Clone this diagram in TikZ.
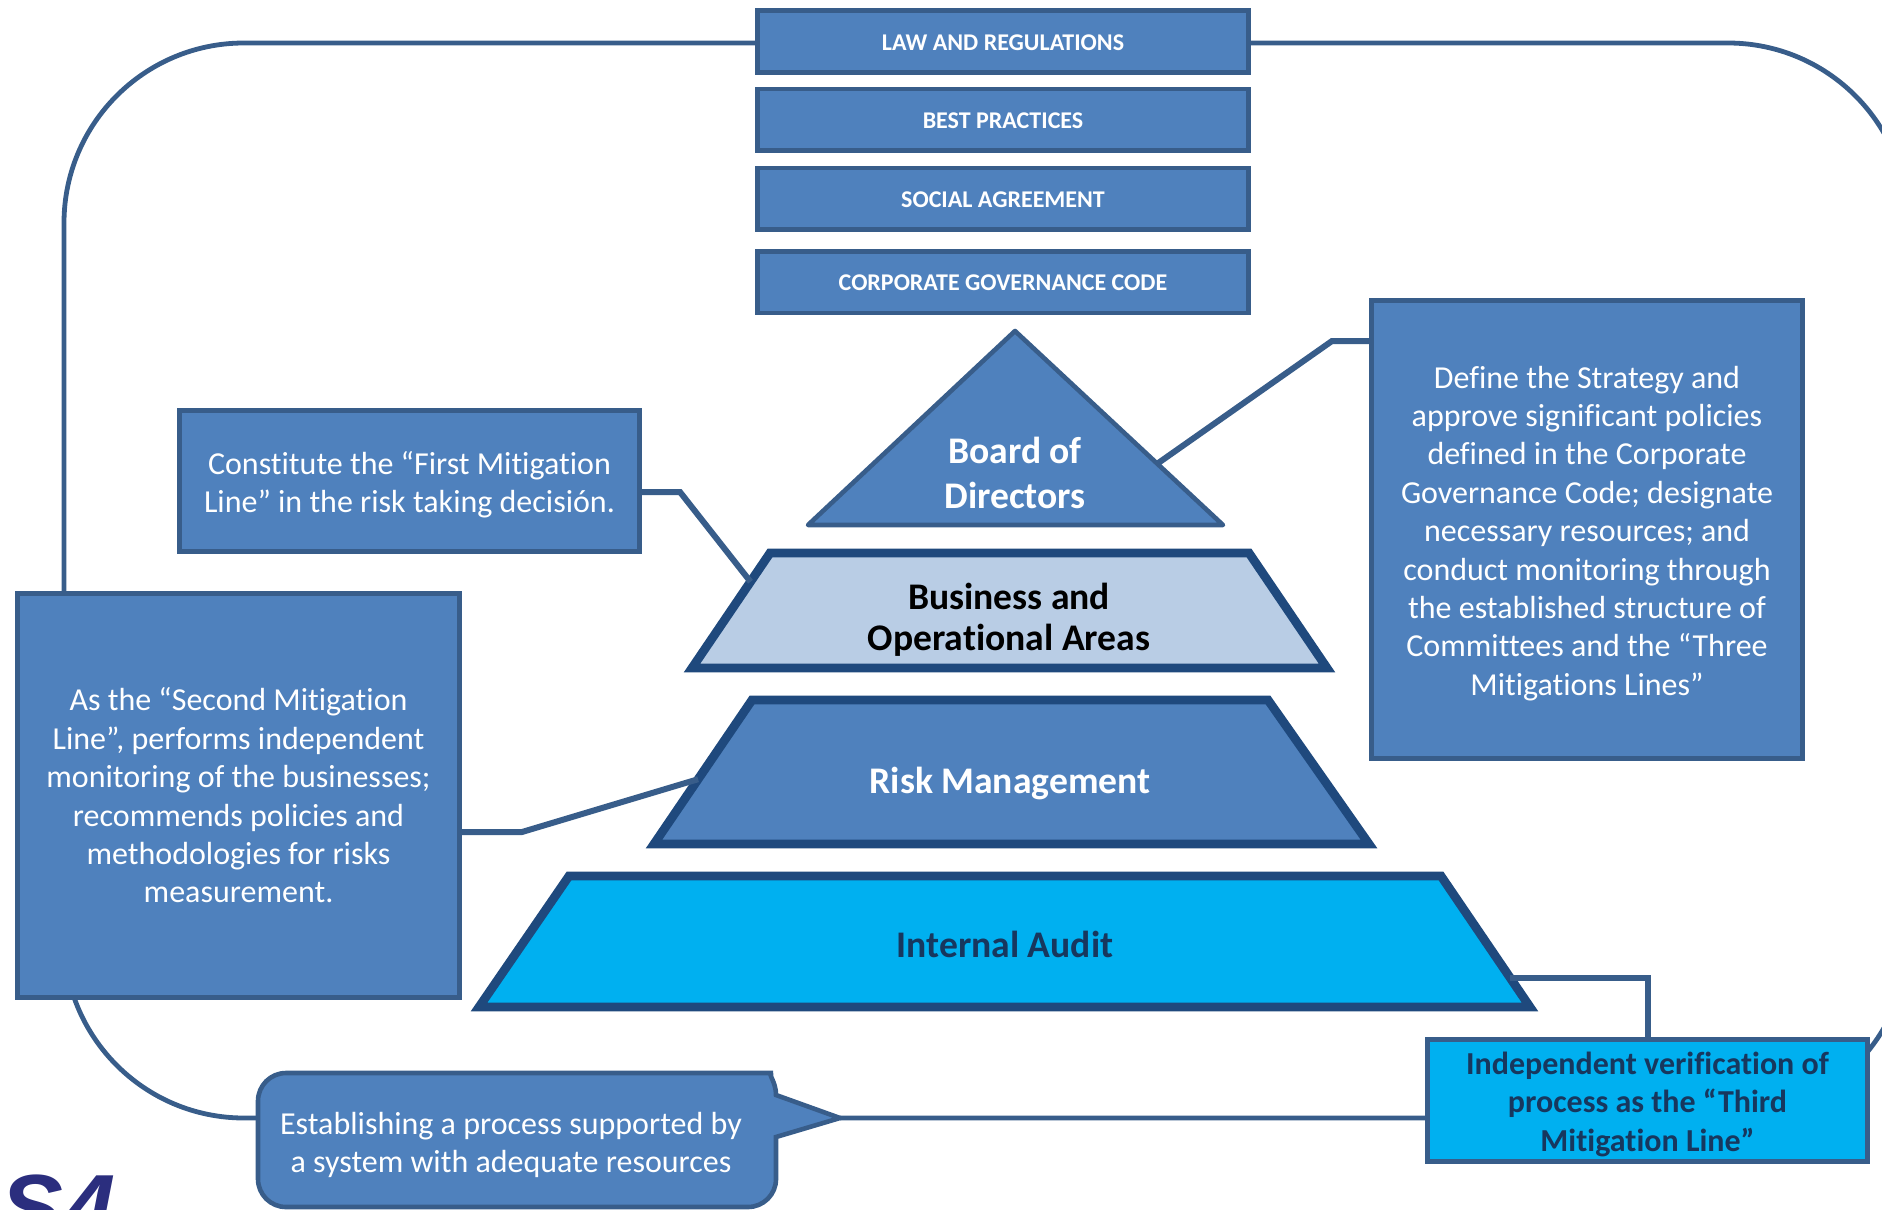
\documentclass[tikz,border=0pt]{standalone}
\usepackage{fontspec}
\setmainfont{Carlito}[Ligatures=CommonOff]
\newfontfamily\logofont{Liberation Sans}
\usetikzlibrary{shadows,calc}
\definecolor{boxfill}{HTML}{4F81BD}
\definecolor{boxline}{HTML}{385D8A}
\definecolor{darkline}{HTML}{1F497D}
\definecolor{lightfill}{HTML}{B9CDE5}
\definecolor{cyanfill}{HTML}{00B0F0}
\definecolor{darktext}{HTML}{17375E}
\definecolor{logoblue}{HTML}{2B2E7E}
\begin{document}
\begin{tikzpicture}[x=0.5pt,y=-0.5pt]
\tikzstyle{topbox}=[draw=boxline,line width=2.3pt,fill=boxfill,text=white,font=\fontsize{12}{14}\selectfont\bfseries,text height=9pt,minimum width=245.3pt,minimum height=30.8pt,inner sep=0pt,outer sep=0pt]
\tikzstyle{sidebox}=[draw=boxline,line width=2.3pt,fill=boxfill,text=white,font=\fontsize{16}{19.2}\selectfont,align=center,inner sep=0pt,outer sep=0pt]
\tikzstyle{cyanbox}=[sidebox,fill=cyanfill,text=darktext,font=\fontsize{16}{19.2}\selectfont\bfseries]
\tikzstyle{tier}=[draw=darkline,line width=4.4pt,drop shadow={shadow xshift=1pt,shadow yshift=-1.5pt,fill=black,opacity=.35}]
\tikzstyle{tierlabel}=[align=center,inner sep=0pt,font=\fontsize{18.8}{20.5}\selectfont\bfseries]
\tikzstyle{link}=[draw=boxline,line width=3pt]
\tikzstyle{frameline}=[draw=boxline,line width=2.4pt,rounded corners=90pt]
\newcommand{\droptop}{\rule{0pt}{15pt}}
\clip (0,0) rectangle (1882,1209);
\node[topbox] (law) at (1003,41.5) {LAW AND REGULATIONS};
\node[topbox] (best) at (1003,120) {BEST PRACTICES};
\node[topbox] (social) at (1003,199) {SOCIAL AGREEMENT};
\node[topbox] (code) at (1003,282) {CORPORATE GOVERNANCE CODE};
\coordinate (bubblewest) at (258,1118);
\coordinate (bubbletip) at (840,1118);
\draw[frameline] (law.west |- 0,43) -- (64,43) -- (64,1118) -- (bubblewest);
\draw[frameline] (law.east |- 0,43) -- (1908,43) -- (1908,1118) -- (bubbletip);
\coordinate (apex) at (1015,331);
\coordinate (baseleft) at (808,525);
\coordinate (baseright) at (1223,525);
\draw[draw=boxline,line width=2.3pt,fill=boxfill,line join=round] (apex) -- (baseright) -- (baseleft) -- cycle;
\node[tierlabel,text=white,font=\fontsize{18.8}{22.6}\selectfont\bfseries] (board) at (1015,473) {Board of\\Directors};
\coordinate (bustopl) at (770,553);
\coordinate (busbotl) at (692,668);
\draw[tier,fill=lightfill] (bustopl) -- (1249,553) -- (1327,668) -- (busbotl) -- cycle;
\node[tierlabel,text=black] (business) at (1009,620) {Business and\\Operational Areas};
\coordinate (risktopl) at (752,700);
\coordinate (riskbotl) at (654,844);
\draw[tier,fill=boxfill] (risktopl) -- (1268,700) -- (1369,844) -- (riskbotl) -- cycle;
\node[tierlabel,text=white] (risk) at (1010,783) {Risk Management};
\coordinate (audittopr) at (1441,876);
\coordinate (auditbotr) at (1530,1007);
\draw[tier,fill=cyanfill] (569,876) -- (audittopr) -- (auditbotr) -- (479,1007) -- cycle;
\node[tierlabel,text=darktext] (audit) at (1005,944) {Internal Audit};
\node[sidebox,minimum width=229.8pt,minimum height=70.3pt] (first) at (409.5,481) {\droptop Constitute the “First Mitigation\\Line” in the risk taking decisión.};
\node[sidebox,minimum width=215.3pt,minimum height=228.8pt] (define) at (1587,529.5) {\droptop Define the Strategy and\\approve significant policies\\defined in the Corporate\\Governance Code; designate\\necessary resources; and\\conduct monitoring through\\the established structure of\\Committees and the “Three\\Mitigations Lines”};
\node[sidebox,minimum width=220.8pt,minimum height=201.8pt] (second) at (238.5,795.5) {As the “Second Mitigation\\Line”, performs independent\\monitoring of the businesses;\\recommends policies and\\methodologies for risks\\measurement.};
\node[cyanbox,minimum width=219.8pt,minimum height=60.8pt] (third) at (1647.5,1100.5) {\droptop Independent verification of\\process as the “Third\\Mitigation Line”};
\draw[draw=boxline,line width=2.3pt,fill=boxfill,rounded corners=14pt] (258,1073) -- (745,1073)[sharp corners] .. controls (766,1073) and (776,1080) .. (776,1095) -- (bubbletip) -- (776,1137)[rounded corners=14pt] -- (776,1207) -- (258,1207) -- cycle;
\node[text=white,align=center,inner sep=0pt,font=\fontsize{16}{19.2}\selectfont] (bubble) at (511,1145) {Establishing a process supported by\\a system with adequate resources};
\node[text=logoblue,anchor=base west,inner sep=0pt,font=\logofont\fontsize{47}{47}\selectfont\bfseries\itshape] (logotext) at (0,1240) {S4};
\coordinate (boardside) at ($(apex)!.684!(baseright)$);
\draw[link] (first.east |- 0,492) -- (680,492) -- ($(bustopl)!.25!(busbotl)$);
\draw[link] (define.west |- 0,341) -- (1332,341) -- (boardside);
\draw[link] (second.east |- 0,832) -- (522,832) -- ($(risktopl)!.55!(riskbotl)$);
\draw[link] ($(audittopr)!.78!(auditbotr)$) -| (third.north);
\end{tikzpicture}
\end{document}
